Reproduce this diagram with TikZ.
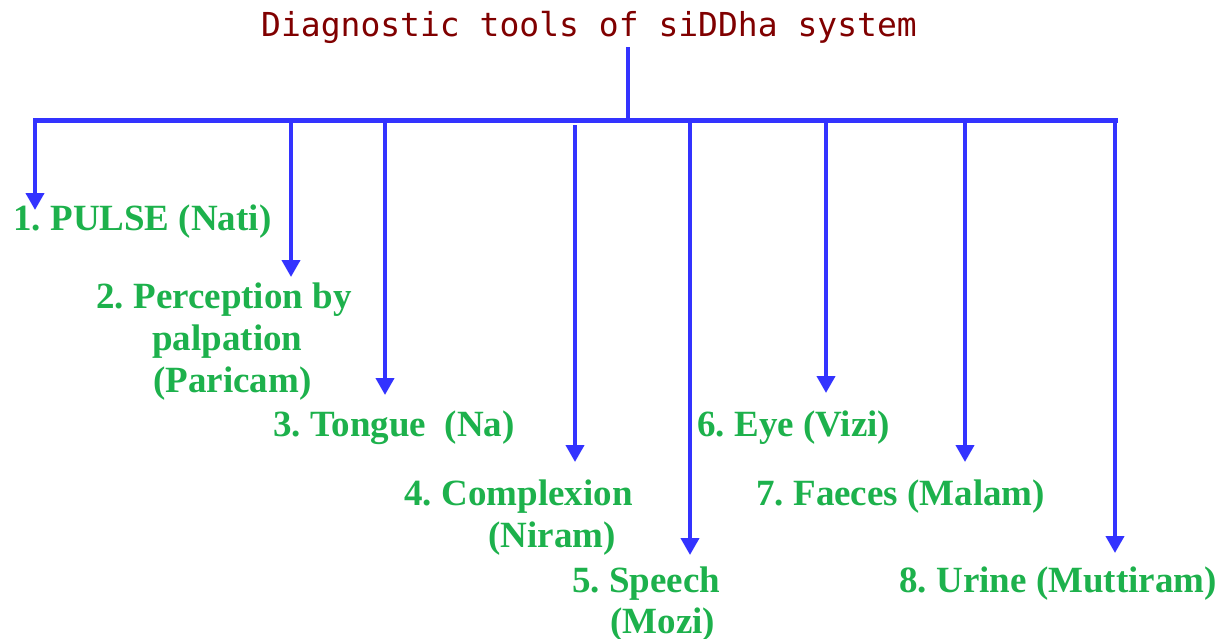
\documentclass[tikz,border=0pt]{standalone}
\usepackage{fontspec}
\setmainfont{Liberation Serif}
\newfontfamily\titlefont{DejaVu Sans Mono}
\usetikzlibrary{arrows.meta}
\definecolor{busblue}{RGB}{51,51,255}
\definecolor{labelgreen}{RGB}{29,177,76}
\definecolor{titlered}{RGB}{128,0,0}
\frenchspacing

\begin{document}
\begin{tikzpicture}[x=0.5pt,y=-0.5pt,
  lbl/.style={text=labelgreen, font=\fontsize{18.5pt}{21pt}\selectfont\bfseries, inner sep=0pt, anchor=base west},
  heading/.style={text=titlered, font=\titlefont\fontsize{16.5pt}{20pt}\selectfont, inner sep=0pt, anchor=base},
  bus/.style={draw=busblue, line width=2.5pt, line cap=rect},
  branch/.style={draw=busblue, line width=2pt, -{Triangle[width=9pt,length=8.5pt]}},
]
\useasboundingbox (0,0) rectangle (1222,638);

% heading
\node[heading] (title) at (589,36) {Diagnostic tools of siDDha system};

% junctions on the bus and arrow tips
\coordinate (s)  at (628,47);
\coordinate (sj) at (628,120);
\coordinate (b1) at (35,120);   \coordinate (t1) at (35,210);
\coordinate (b2) at (291,120);  \coordinate (t2) at (291,277);
\coordinate (b3) at (385,120);  \coordinate (t3) at (385,395);
\coordinate (b4) at (575,125);  \coordinate (t4) at (575,462);
\coordinate (b5) at (690,120);  \coordinate (t5) at (690,555);
\coordinate (b6) at (826,120);  \coordinate (t6) at (826,393);
\coordinate (b7) at (965,120);  \coordinate (t7) at (965,462);
\coordinate (b8) at (1115,120); \coordinate (t8) at (1115,553);

% stem and bus
\draw[draw=busblue, line width=2pt] (s) -- (sj);
\draw[bus] (b1) -- (b8);

% branches
\foreach \i in {1,...,8} \draw[branch] (b\i) -- (t\i);

% labels
\node[lbl] (l1)  at (13,230)  {1. PULSE (Nati)};
\node[lbl] (l2a) at (96,308)  {2. Perception by};
\node[lbl] (l2b) at (152,350) {palpation};
\node[lbl] (l2c) at (153,392) {(Paricam)};
\node[lbl] (l3)  at (273,436) {3. Tongue\ \ (Na)};
\node[lbl] (l4a) at (404,505) {4. Complexion};
\node[lbl] (l4b) at (488,547) {(Niram)};
\node[lbl] (l5a) at (572,592) {5. Speech};
\node[lbl] (l5b) at (610,633) {(Mozi)};
\node[lbl] (l6)  at (697,436) {6. Eye (Vizi)};
\node[lbl] (l7)  at (756,505) {7. Faeces (Malam)};
\node[lbl] (l8)  at (899,592) {8. Urine (Muttiram)};
\end{tikzpicture}
\end{document}
